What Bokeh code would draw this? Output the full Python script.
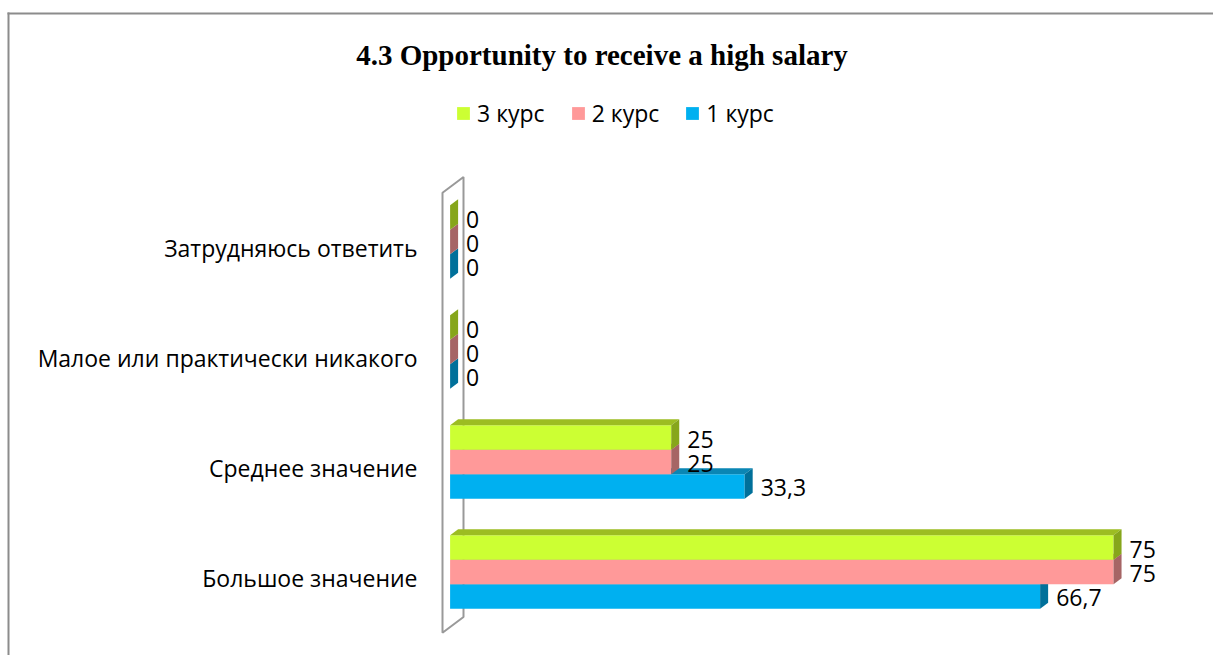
from bokeh.plotting import figure
from bokeh.models import Range1d, Legend, LegendItem, Label
from bokeh.core.properties import value
from bokeh.embed import file_html
from bokeh.resources import INLINE

# ---------------- data ----------------
title_text = "4.3 Opportunity to receive a high salary"
# categories from bottom to top
categories = ["Большое значение", "Среднее значение",
              "Малое или практически никакого", "Затрудняюсь ответить"]
# series from lowest bar to highest bar inside each group
series = ["1 курс", "2 курс", "3 курс"]
values_1 = [66.7, 33.3, 0, 0]
values_2 = [75, 25, 0, 0]
values_3 = [75, 25, 0, 0]
legend_order = ["3 курс", "2 курс", "1 курс"]

# ---------------- style ----------------
front_colors = ["#00B0F0", "#FF9999", "#CCFF33"]
top_colors = ["#0A86B4", "#C97C7C", "#9CBD22"]
side_colors = ["#00709A", "#A66565", "#86A61B"]
FONT = "Open Sans"
FS = "23px"

W, H = 1213, 655
PXX = 8.846          # px per value unit
X0 = 449.6           # canvas px of value 0
PXY = 24.444         # px per bar height
GROUP = 4.5          # bar heights per category (3 bars + gap)
x_start = -X0 / PXX
x_end = x_start + W / PXX
y_start = 1 - (H - 571.5) / PXY
y_end = y_start + H / PXY
DX = 8 / PXX         # 3D depth offset (x)
DY = 6 / PXY         # 3D depth offset (y)


def cx(px):
    return x_start + px / PXX


def cy(px):
    return y_end - px / PXY


p = figure(width=W, height=H, output_backend="svg", toolbar_location=None,
           x_range=Range1d(x_start, x_end), y_range=Range1d(y_start, y_end),
           x_axis_location=None, y_axis_location=None,
           min_border=0, outline_line_color=None)
p.xgrid.visible = False
p.ygrid.visible = False
p.background_fill_color = "white"
p.border_fill_color = "white"

# chart border (top and left edges visible in the crop)
p.segment(x0=[cx(7), cx(8)], y0=[cy(13), cy(12)],
          x1=[cx(W), cx(8)], y1=[cy(13), cy(H)],
          line_color="#8C8C8C", line_width=2)

# back wall outline
n = len(categories)
lo = -0.5 - (GROUP - 3) / 2
hi = (n - 1) * GROUP + 2.5 + (GROUP - 3) / 2
fd, bd = -7.6, 13.4
wall_x = [fd / PXX, fd / PXX, bd / PXX, bd / PXX]
wall_y = [lo + fd * 0.75 / PXY, hi + fd * 0.75 / PXY,
          hi + bd * 0.75 / PXY, lo + bd * 0.75 / PXY]
p.patch(x=wall_x, y=wall_y, fill_color=None, line_color="#999999", line_width=2)

fronts = {}
for j, vals in enumerate([values_1, values_2, values_3]):
    ys = [i * GROUP + j for i in range(n)]
    r = p.hbar(y=ys, left=0, right=vals, height=1.0,
               fill_color=front_colors[j], line_color=None)
    fronts[series[j]] = r
    top_xs = [[0, v, v + DX, DX] for v in vals]
    top_ys = [[y + 0.5, y + 0.5, y + 0.5 + DY, y + 0.5 + DY] for y in ys]
    p.patches(xs=top_xs, ys=top_ys, fill_color=top_colors[j], line_color=None)
    side_xs = [[v, v + DX, v + DX, v] for v in vals]
    side_ys = [[y - 0.5, y - 0.5 + DY, y + 0.5 + DY, y + 0.5] for y in ys]
    p.patches(xs=side_xs, ys=side_ys, fill_color=side_colors[j], line_color=None)

# value labels
for j, vals in enumerate([values_1, values_2, values_3]):
    ys = [i * GROUP + j for i in range(n)]
    labels = [("%g" % v).replace(".", ",") for v in vals]
    p.text(x=vals, y=ys, text=labels, x_offset=16, y_offset=1.5, text_align="left",
           text_baseline="middle", text_font=value(FONT), text_font_size=FS,
           text_color="black")

# category labels
p.text(x=[0] * n, y=[i * GROUP + 1 for i in range(n)], text=categories,
       x_offset=-32.6, y_offset=5.5, text_align="right", text_baseline="middle",
       text_font=value(FONT), text_font_size=FS, text_color="black")

# title
p.add_layout(Label(x=cx(601.5), y=cy(54.5), text=title_text, text_align="center",
                   text_baseline="alphabetic", text_font="Liberation Serif",
                   text_font_style="bold", text_font_size="29px", text_color="black"))

# legend
items = [LegendItem(label=s, renderers=[fronts[s]]) for s in legend_order]
legend = Legend(items=items, orientation="horizontal", location=(455, 526),
                glyph_width=16, glyph_height=16, label_standoff=6, spacing=25,
                padding=0, margin=0, border_line_color=None, background_fill_alpha=0,
                label_text_font=FONT, label_text_font_size=FS,
                label_text_color="black")
p.add_layout(legend, "center")

open("out.html", "w").write(file_html(p, INLINE))
